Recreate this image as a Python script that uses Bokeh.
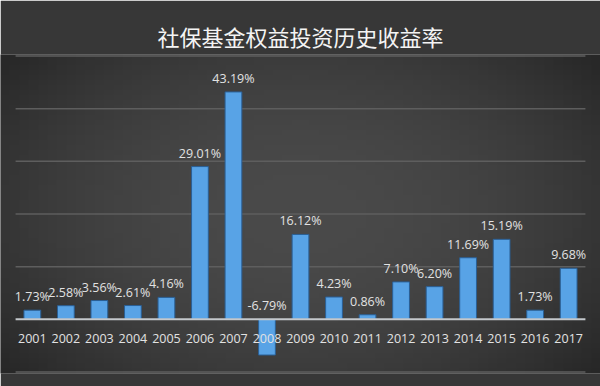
import numpy as np
from bokeh.plotting import figure
from bokeh.models import ColumnDataSource, Range1d
from bokeh.embed import file_html
from bokeh.resources import INLINE
from bokeh.core.properties import value

years = ["2001", "2002", "2003", "2004", "2005", "2006", "2007", "2008", "2009",
         "2010", "2011", "2012", "2013", "2014", "2015", "2016", "2017"]
returns = [1.73, 2.58, 3.56, 2.61, 4.16, 29.01, 43.19, -6.79, 16.12,
           4.23, 0.86, 7.10, 6.20, 11.69, 15.19, 1.73, 9.68]
y_ticks = [-10, 0, 10, 20, 30, 40, 50]
title_text = "社保基金权益投资历史收益率"

n_years = len(years)
xpos = [i + 0.5 for i in range(n_years)]
labels = [f"{v:.2f}%" for v in returns]
label_y = [max(v, 0) for v in returns]
src = ColumnDataSource(dict(x=xpos, year=years, ret=returns, lab=labels, ly=label_y,
                            zero=[0] * n_years))
grid_y = [t for t in y_ticks if t != 0]
grid_src = ColumnDataSource(dict(y=grid_y, left=[0] * len(grid_y),
                                 right=[n_years] * len(grid_y)))
zero_src = ColumnDataSource(dict(y=[0], left=[0], right=[n_years]))

pad = 0.45
y_lo, y_hi = y_ticks[0], y_ticks[-1]
bg = "#373737"
p = figure(width=600, height=386, x_range=Range1d(-pad, n_years + pad),
           y_range=Range1d(y_lo - 0.3, y_hi + 0.3), output_backend="svg",
           toolbar_location=None, x_axis_location=None, y_axis_location=None,
           background_fill_color="#444444", border_fill_color=bg,
           min_border_left=0, min_border_right=0, min_border_bottom=13, min_border_top=54)
p.outline_line_color = None
p.grid.visible = False
for g in p.grid:
    g.grid_line_color = None

# subtle vignette behind the chart area
n = 64
gx, gy = np.meshgrid(np.linspace(-1, 1, n), np.linspace(-1, 1, n))
r = np.clip(np.sqrt(gx ** 2 * 0.85 + gy ** 2 * 0.6), 0, 1.2)
shade = (74 - 24 * r ** 2).astype(np.uint8)
img = np.empty((n, n), dtype=np.uint32)
view = img.view(dtype=np.uint8).reshape((n, n, 4))
view[:, :, 0] = shade
view[:, :, 1] = shade
view[:, :, 2] = shade
view[:, :, 3] = 255
p.image_rgba(image=[img], x=-pad, y=y_lo - 0.3, dw=n_years + 2 * pad,
             dh=y_hi - y_lo + 0.6, level="image")

p.title.text = title_text
p.title.align = "center"
p.title.vertical_align = "middle"
p.title.text_color = "#f4f4f4"
p.title.text_font = "Noto Sans CJK SC"
p.title.text_font_size = "22px"
p.title.text_font_style = "normal"
p.title.offset = 0
p.title.standoff = 4

# grid lines as thin filled bars (no strokes)
p.hbar(y="y", left="left", right="right", height=0.28, source=grid_src,
       fill_color="#5e5e5e", line_color=None, level="underlay")

p.vbar(x="x", top="ret", bottom=0, width=0.5, source=src,
       fill_color="#58a3e6", line_color="#2a5f95", line_width=1)

p.hbar(y="y", left="left", right="right", height=0.4, source=zero_src,
       fill_color="#c4c8cc", line_color=None)

font = value("Open Sans")
p.text(x="x", y="ly", text="lab", source=src, text_align="center",
       text_baseline="bottom", y_offset=-5, text_color="#e2e2e2",
       text_font=font, text_font_size="12.5px")

p.text(x="x", y="zero", text="year", source=src, text_align="center",
       text_baseline="middle", y_offset=19, text_color="#e2e2e2",
       text_font=font, text_font_size="12.5px")

open("out.html", "w").write(file_html(p, INLINE))
